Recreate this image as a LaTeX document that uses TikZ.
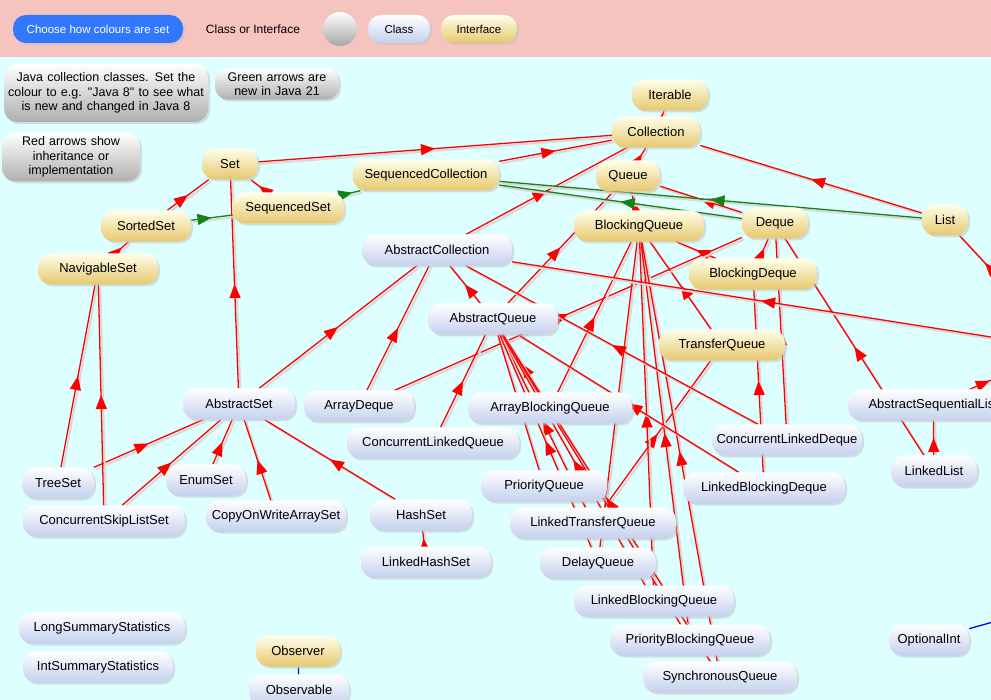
\documentclass[tikz,border=0pt]{standalone}
\usepackage{fontspec}
\setmainfont{Liberation Sans}
\usetikzlibrary{backgrounds, shadows, arrows.meta, decorations.markings}
\definecolor{bgcyan}{RGB}{222,255,255}
\definecolor{barpink}{RGB}{246,196,190}
\definecolor{clsblue}{RGB}{196,208,238}
\definecolor{itfgold}{RGB}{230,200,110}
\definecolor{infogray}{RGB}{175,175,175}
\definecolor{btnblue}{RGB}{50,120,255}
\definecolor{newgreen}{RGB}{20,130,20}

\begin{document}
\begin{tikzpicture}[
            x = 1pt, y = -1pt,
            box/.style = {
                rounded corners = 13pt,
                minimum height = 31pt,
                inner sep = 2pt,
                font = \fontsize{13}{15}\selectfont,
                drop shadow = {shadow xshift=2pt, shadow yshift=-2pt, fill=black!25}
            },
            cls/.style = {box, top color = white, bottom color = clsblue, minimum width = #1},
            itf/.style = {box, top color = yellow!8, bottom color = itfgold, minimum width = #1},
            info/.style = {box, top color = white, bottom color = infogray, align = center, text width = #1,
                font = \fontsize{12.5}{14.5}\selectfont},
            edge/.style = {
                draw = #1, line width = 1.3pt,
                preaction = {draw = black!15, line width = 2pt, transform canvas = {shift = {(2pt,-2pt)}}},
                postaction = {decorate},
                decoration = {markings, mark = at position 0.5 with {\arrow{Triangle[length=14pt,width=11pt]}}}
            },
            rel/.style = {edge = red},
            new/.style = {edge = newgreen}
        ]

        \useasboundingbox (0,0) rectangle (991,700);
        \clip (0,0) rectangle (991,700);

        % background and legend bar
        \begin{scope}[on background layer]
        \fill[bgcyan] (0,0) rectangle (991,700);
        \fill[barpink] (0,0) rectangle (991,57);
        \end{scope}

        \node[box, fill = btnblue, text = white, minimum width = 170pt, minimum height = 28pt,
              font = \fontsize{11.5}{13}\selectfont, drop shadow = {opacity=0}] (choose) at (98,29) {Choose how colours are set};
        \node[font = \fontsize{12}{13}\selectfont] (legend) at (253,29) {Class or Interface};
        \shade[top color = white, bottom color = black!35] (340,29) circle (17pt);
        \node[cls = 62pt, minimum height = 28pt, font = \fontsize{11.5}{13}\selectfont] (lcls) at (399,29) {Class};
        \node[itf = 76pt, minimum height = 28pt, font = \fontsize{11.5}{13}\selectfont] (litf) at (479,29) {Interface};

        % notes
        \node[info = 198pt, minimum height = 58pt, inner sep = 3pt] (note1) at (106,93)
            {Java collection classes. Set the colour to e.g. \textquotedbl Java 8\textquotedbl\ to see what is new and changed in Java 8};
        \node[info = 116pt, inner sep = 4pt] (note2) at (277,84) {Green arrows are new in Java 21};
        \node[info = 130pt, inner sep = 4pt] (note3) at (71,157) {Red arrows show inheritance or implementation};

        % interfaces
        \node[itf = 76pt] (Iterable) at (670,95) {Iterable};
        \node[itf = 88pt] (Collection) at (656,132) {Collection};
        \node[itf = 56pt] (Set) at (230,164) {Set};
        \node[itf = 146pt] (SeqColl) at (426,175) {SequencedCollection};
        \node[itf = 64pt] (Queue) at (628,176) {Queue};
        \node[itf = 112pt] (SeqSet) at (288,208) {SequencedSet};
        \node[itf = 90pt] (SortedSet) at (146,226) {SortedSet};
        \node[itf = 130pt] (BQueue) at (639,226) {BlockingQueue};
        \node[itf = 66pt] (Deque) at (775,223) {Deque};
        \node[itf = 46pt] (List) at (945,220) {List};
        \node[itf = 120pt] (NavSet) at (98,269) {NavigableSet};
        \node[itf = 128pt] (BDeque) at (753,274) {BlockingDeque};
        \node[itf = 126pt] (TQueue) at (722,345) {TransferQueue};
        \node[itf = 84pt] (Observer) at (298,651) {Observer};

        % classes
        \node[cls = 150pt] (AColl) at (437,250) {AbstractCollection};
        \node[cls = 130pt] (AQueue) at (493,319) {AbstractQueue};
        \node[cls = 112pt] (ASet) at (239,404) {AbstractSet};
        \node[cls = 110pt] (ADeque) at (359,406) {ArrayDeque};
        \node[cls = 164pt] (ABQueue) at (550,408) {ArrayBlockingQueue};
        \node[cls = 170pt, anchor = west] (ASeqList) at (848,405) {AbstractSequentialList};
        \node[cls = 172pt] (CLQueue) at (433,443) {ConcurrentLinkedQueue};
        \node[cls = 150pt] (CLDeque) at (787,440) {ConcurrentLinkedDeque};
        \node[cls = 86pt] (LList) at (934,471) {LinkedList};
        \node[cls = 72pt] (TreeSet) at (58,483) {TreeSet};
        \node[cls = 80pt] (EnumSet) at (206,480) {EnumSet};
        \node[cls = 126pt] (PQueue) at (544,486) {PriorityQueue};
        \node[cls = 162pt] (LBDeque) at (764,488) {LinkedBlockingDeque};
        \node[cls = 162pt] (CSLSet) at (104,521) {ConcurrentSkipListSet};
        \node[cls = 140pt] (COWSet) at (276,516) {CopyOnWriteArraySet};
        \node[cls = 102pt] (HashSet) at (421,515) {HashSet};
        \node[cls = 166pt] (LTQueue) at (593,523) {LinkedTransferQueue};
        \node[cls = 130pt] (LHSet) at (426,562) {LinkedHashSet};
        \node[cls = 116pt] (DQueue) at (598,563) {DelayQueue};
        \node[cls = 160pt] (LBQueue) at (654,601) {LinkedBlockingQueue};
        \node[cls = 166pt] (LongStat) at (102,628) {LongSummaryStatistics};
        \node[cls = 160pt] (PBQueue) at (690,640) {PriorityBlockingQueue};
        \node[cls = 80pt] (OptInt) at (929,640) {OptionalInt};
        \node[cls = 150pt] (IntStat) at (98,667) {IntSummaryStatistics};
        \node[cls = 154pt] (SQueue) at (720,677) {SynchronousQueue};
        \node[cls = 100pt] (Observable) at (299,690) {Observable};

        % free ends leaving the picture
        \coordinate (AList) at (1010,340);
        \coordinate (ListOut) at (1010,290);
        \coordinate (SeqListOut) at (1010,372);
        \coordinate (OptOut) at (1000,620);

        \begin{scope}[on background layer]
        \path[rel] (Collection) -- (Iterable);
        \path[rel] (Set) -- (Collection);
        \path[rel] (SeqColl) -- (Collection);
        \path[rel] (Queue) -- (Collection);
        \path[rel] (List) -- (Collection);
        \path[rel] (Deque) -- (Queue);
        \path[rel] (BQueue) -- (Queue);
        \path[rel] (SortedSet) -- (Set);
        \path[rel] (SeqSet) -- (Set);
        \path[rel] (NavSet) -- (SortedSet);
        \path[rel] (BDeque) -- (BQueue);
        \path[rel] (BDeque) -- (Deque);
        \path[rel] (TQueue) -- (BQueue);
        \path[rel] (AColl) -- (Collection);
        \path[rel] (AQueue) -- (AColl);
        \path[rel] (AQueue) -- (Queue);
        \path[rel] (ASet) -- (AColl);
        \path[rel] (ASet) -- (Set);
        \path[rel] (ADeque) -- (AColl);
        \path[rel] (ADeque) -- (Deque);
        \path[rel] (CLQueue) -- (AQueue);
        \path[rel] (ABQueue) -- (AQueue);
        \path[rel] (ABQueue) -- (BQueue);
        \path[rel] (PQueue) -- (AQueue);
        \path[rel] (LTQueue) -- (AQueue);
        \path[rel] (LTQueue) -- (TQueue);
        \path[rel] (DQueue) -- (AQueue);
        \path[rel] (DQueue) -- (BQueue);
        \path[rel] (LBQueue) -- (AQueue);
        \path[rel] (LBQueue) -- (BQueue);
        \path[rel] (PBQueue) -- (AQueue);
        \path[rel] (PBQueue) -- (BQueue);
        \path[rel] (SQueue) -- (AQueue);
        \path[rel] (SQueue) -- (BQueue);
        \path[rel] (CLDeque) -- (AColl);
        \path[rel] (CLDeque) -- (Deque);
        \path[rel] (LBDeque) -- (AQueue);
        \path[rel] (LBDeque) -- (BDeque);
        \path[rel] (LList) -- (ASeqList);
        \path[rel] (LList) -- (Deque);
        \path[rel] (AList) -- (AColl);
        \path[rel] (ASeqList) -- (SeqListOut);
        \path[rel] (ListOut) -- (List);
        \path[rel] (TreeSet) -- (NavSet);
        \path[rel] (TreeSet) -- (ASet);
        \path[rel] (CSLSet) -- (NavSet);
        \path[rel] (CSLSet) -- (ASet);
        \path[rel] (EnumSet) -- (ASet);
        \path[rel] (COWSet) -- (ASet);
        \path[rel] (HashSet) -- (ASet);
        \path[rel] (LHSet) -- (HashSet);

        \path[new] (SortedSet) -- (SeqSet);
        \path[new] (SeqSet) -- (SeqColl);
        \path[new] (Deque) -- (SeqColl);
        \path[new] (List) -- (SeqColl);

        \draw[blue, line width = 1.3pt] (Observable) -- (Observer);
        \draw[blue, line width = 1.3pt] (OptInt) -- (OptOut);
        \end{scope}

\end{tikzpicture}
\end{document}
